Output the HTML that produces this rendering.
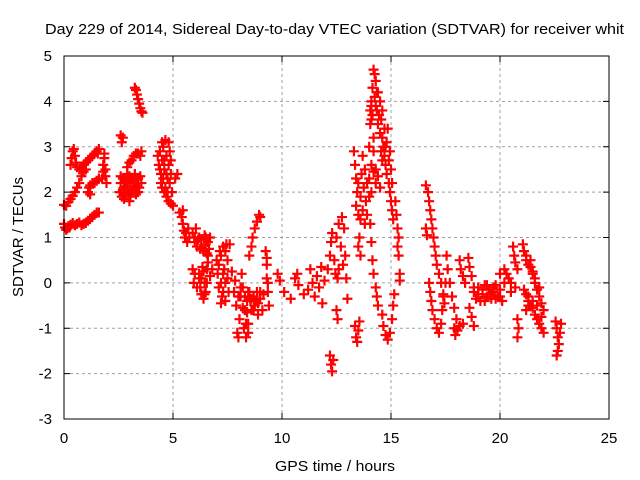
<!DOCTYPE html>
<html><head><meta charset="utf-8"><style>
html,body{margin:0;padding:0;background:#fff;}
svg{display:block;font-family:"Liberation Sans",sans-serif;}
</style></head><body>
<svg id="chart" width="640" height="480" viewBox="0 0 640 480" xmlns="http://www.w3.org/2000/svg">
<rect width="640" height="480" fill="#fff"/>
<text x="45" y="34" font-size="15" textLength="579" lengthAdjust="spacingAndGlyphs" fill="#000">Day 229 of 2014, Sidereal Day-to-day VTEC variation (SDTVAR) for receiver whit</text>
<g id="grid"></g>
<g id="ticks"></g>
<g id="points"></g>
<rect x="64" y="56" width="545" height="363" fill="none" stroke="#000" stroke-width="1"/>
<text x="335" y="471" font-size="15" text-anchor="middle" textLength="120" lengthAdjust="spacingAndGlyphs">GPS time / hours</text>
<text x="0" y="0" font-size="15" text-anchor="middle" textLength="120" lengthAdjust="spacingAndGlyphs" transform="translate(23,237) rotate(-90)">SDTVAR / TECUs</text>
</svg>
<script>
const xTicks = [0,5,10,15,20,25];
const yTicks = [-3,-2,-1,0,1,2,3,4,5];
const times = [
0,0.05,0.1,0.15,0.2,0.25,0.3,0.4,0.5,0.6,0.7,0.8,0.9,1.0,1.1,1.2,1.3,1.4,1.5,1.6,
0,0.1,0.2,0.3,0.4,0.5,0.6,0.7,0.8,0.9,1.0,
0.3,0.35,0.4,0.45,0.5,0.55,0.6,0.7,0.8,0.9,1.0,1.1,1.2,1.3,1.4,1.5,1.6,1.55,
1.1,1.15,1.2,1.3,1.4,1.5,1.6,1.2,
1.75,1.8,1.8,1.85,1.85,1.9,1.9,1.95,
2.6,2.65,2.7,
2.55,2.6,2.65,2.7,2.75,2.8,2.85,2.9,2.95,3.0,3.05,3.1,3.15,3.2,3.25,3.3,3.35,3.4,3.45,3.5,3.55,2.9,3.0,3.1,3.2,3.3,3.4,3.5,3.55,
3.25,3.3,3.35,3.4,3.45,3.5,3.55,3.6,
4.3,4.35,4.4,4.45,4.5,4.55,4.6,4.65,4.7,4.75,4.8,4.85,4.9,4.95,4.45,4.5,4.6,4.7,4.8,4.9,5.0,5.1,5.2,5.3,5.45,
5.4,5.45,5.5,5.55,5.6,5.65,5.7,5.75,
5.9,6.0,6.05,6.1,6.2,6.25,6.3,6.4,6.45,6.5,6.55,6.6,6.65,6.7,
5.9,5.95,6.0,6.1,6.2,6.3,6.35,6.45,6.5,6.55,6.6,6.7,6.8,6.4,
7.0,7.05,7.1,7.15,7.2,7.25,7.3,7.35,7.4,7.45,7.5,7.55,7.6,7.2,
7.7,7.8,7.85,7.9,8.0,8.05,8.1,8.2,8.25,8.3,8.35,8.4,8.45,8.55,8.6,8.7,8.75,8.85,8.9,9.0,9.1,9.15,8.15,8.45,8.0,7.95,
8.5,8.6,8.65,8.75,8.85,8.95,9.0,
9.25,9.3,9.3,9.35,9.4,9.3,9.35,
9.8,9.9,10.1,10.4,10.6,10.7,10.75,11.0,11.2,11.3,11.4,11.5,11.6,11.7,11.8,11.85,11.95,
12.1,12.2,12.25,12.3,12.4,12.45,12.5,12.6,12.6,12.7,12.75,12.8,12.85,12.9,12.95,12.55,
12.2,12.25,12.3,12.35,12.5,12.55,13.0,
13.3,13.35,13.4,13.45,13.5,13.55,13.6,13.5,13.35,13.4,13.45,13.5,13.55,
13.4,13.5,13.6,13.65,13.7,13.75,13.8,13.85,13.9,14.0,14.1,14.2,14.3,14.4,14.5,13.6,
14.0,14.05,14.1,14.15,14.2,14.25,14.3,14.35,14.1,14.2,14.35,14.4,14.05,
14.5,14.55,14.6,14.65,14.7,14.75,14.8,14.85,14.9,14.95,15.0,15.05,15.1,14.6,14.75,
14.05,14.1,14.15,14.2,14.3,14.35,14.4,14.6,14.65,14.75,14.85,14.95,15.05,15.1,15.15,
15.2,15.25,15.3,15.35,15.3,15.35,15.4,15.4,
16.6,16.7,16.75,16.8,16.85,16.9,16.95,17.0,17.05,17.1,17.2,17.3,17.4,17.45,16.6,16.65,
16.75,16.8,16.85,16.9,17.0,17.1,17.2,17.3,17.35,17.4,17.5,
17.55,17.6,17.7,17.8,17.9,18.0,17.9,17.95,18.05,18.15,18.3,
18.15,18.2,18.3,18.4,18.55,18.6,18.7,18.8,18.6,18.7,18.8,
18.8,18.9,19.0,19.1,19.2,19.3,19.4,19.5,19.6,19.7,19.8,19.9,20.0,20.1,20.2,
20.0,20.2,20.4,20.5,20.7,20.6,20.65,20.7,20.8,20.8,20.85,20.8,
21.05,21.1,21.2,21.3,21.4,21.5,
21.1,21.2,21.3,21.4,21.5,21.6,21.7,21.8,21.9,22.0,21.2,21.3,
21.5,21.6,21.7,21.8,21.9,22.0,
22.55,22.6,22.65,22.7,22.65,22.6,22.75,22.8,
14.1,14.15,14.25,14.3,14.4,14.45,14.5,14.55,14.6,14.7,14.8,14.9,15.0,14.95,15.05,14.0,14.1,14.2,14.3,13.9,13.8,13.7,
4.4,4.5,4.6,4.7,4.8,4.85,4.9,4.55,4.65,4.75,
2.7,2.8,2.9,3.0,3.1,3.2,3.3,3.4,2.6,2.75,3.0,
6.0,6.15,6.3,6.5,6.6,6.2,6.3,6.4,6.55,6.25,6.45,
7.1,7.2,7.3,7.4,7.5,7.3,7.4,
8.1,8.2,8.3,8.4,8.5,8.6,8.7,8.8,8.9,9.0,8.35,8.45,
19.0,19.2,19.4,19.6,19.8,20.0,20.3,20.5,19.3,19.7,
21.3,21.5,21.7,21.9,21.6,21.8,21.2,21.4
];
const values = [
1.3,1.22,1.17,1.2,1.25,1.22,1.28,1.32,1.27,1.3,1.33,1.27,1.3,1.32,1.37,1.42,1.45,1.5,1.55,1.55,
1.72,1.7,1.78,1.85,1.92,2.0,2.1,2.2,2.35,2.45,2.5,
2.6,2.75,2.9,2.95,2.8,2.65,2.55,2.5,2.55,2.6,2.65,2.7,2.75,2.8,2.85,2.9,2.95,2.85,
2.0,2.1,2.15,2.2,2.2,2.25,2.3,1.95,
2.3,2.45,2.6,2.75,2.85,2.5,2.35,2.2,
3.25,3.1,3.2,
2.0,2.2,1.9,2.3,2.1,1.95,2.25,2.4,2.0,2.2,1.9,2.3,2.05,2.15,2.4,1.95,2.2,2.3,2.1,2.35,2.2,2.55,2.65,2.7,2.8,2.85,2.85,2.8,2.9,
4.3,4.25,4.15,4.05,3.95,3.85,3.78,3.75,
2.8,2.6,2.9,2.4,2.7,3.0,2.5,3.15,2.8,2.3,2.6,2.9,2.4,2.0,2.2,2.1,2.0,1.9,1.8,1.75,1.7,2.3,2.4,1.55,1.6,
1.45,1.3,1.15,1.0,1.1,0.9,1.2,1.0,
1.1,0.9,1.2,0.8,1.0,0.75,0.95,0.7,1.05,0.85,0.65,0.9,0.75,1.0,
0.3,0.0,0.2,-0.1,0.1,-0.25,0.35,0.0,-0.2,0.3,0.45,0.15,0.3,-0.35,
0.5,0.2,-0.1,0.7,0.0,-0.3,0.8,0.3,-0.4,0.85,0.1,-0.2,0.85,-0.45,
0.25,-0.2,0.05,-0.5,-0.3,-0.8,-0.1,-0.55,-1.0,-0.3,-1.2,-0.65,-0.2,-0.4,-0.6,-0.3,-0.5,-0.2,-0.45,-0.35,-0.6,-0.25,0.2,-0.9,-1.2,-1.1,
0.6,0.8,1.0,1.2,1.35,1.5,1.45,
0.7,0.4,0.1,-0.2,-0.5,0.55,0.0,
0.2,0.05,-0.2,-0.35,0.1,0.2,-0.05,-0.25,-0.15,0.3,0.0,-0.3,0.15,-0.1,0.35,-0.45,0.05,
0.3,0.6,0.9,1.1,0.5,0.2,1.0,1.3,0.3,0.8,1.45,0.4,1.2,0.6,0.1,0.1,
-1.6,-1.8,-1.95,-1.7,-0.6,-0.8,-0.35,
2.9,2.6,2.3,2.0,1.5,1.0,0.6,0.8,-0.95,-1.2,-1.3,-1.05,-0.85,
1.7,2.2,1.9,2.4,1.6,2.1,2.5,1.8,2.2,2.3,2.0,2.45,2.2,2.35,2.1,1.4,
3.0,3.5,3.9,4.3,4.7,4.6,4.45,4.2,3.6,3.2,3.8,3.5,3.8,
4.0,3.6,3.2,3.0,2.8,2.6,2.4,3.4,2.2,2.0,1.8,1.6,1.4,2.7,3.0,
1.3,0.9,0.5,0.2,-0.1,-0.3,-0.5,-0.7,-0.95,-1.15,-1.25,-1.1,-0.8,-0.5,-0.25,
1.8,1.5,1.2,1.0,0.8,0.6,0.2,0.05,
2.15,2.0,1.8,1.6,1.4,1.2,1.0,0.8,0.6,0.4,0.2,0.0,-0.25,-0.45,1.2,1.05,
0.0,-0.2,-0.4,-0.6,-0.8,-1.0,-1.1,-0.9,-0.6,-0.3,0.0,
0.6,0.3,0.0,-0.3,-0.55,-0.8,-1.0,-1.15,-1.05,-0.95,-0.9,
0.5,0.3,0.15,0.0,0.55,0.35,0.15,-0.1,-0.55,-0.75,-0.95,
-0.2,-0.35,-0.1,-0.4,-0.25,-0.05,-0.3,-0.15,-0.35,-0.2,-0.05,-0.3,-0.15,-0.4,0.0,
0.2,0.3,0.1,0.0,-0.1,0.8,0.6,0.45,0.3,-0.8,-1.0,-1.2,
0.85,0.7,0.5,0.4,0.35,0.25,
-0.15,-0.25,-0.4,-0.5,-0.55,-0.7,-0.8,-0.9,-1.0,-1.1,-0.6,-0.5,
0.2,0.0,-0.15,-0.3,-0.45,-0.6,
-0.85,-1.0,-1.2,-1.35,-1.5,-1.6,-1.1,-0.9,
4.0,3.7,4.1,3.9,4.2,3.7,3.3,2.9,3.8,3.4,3.1,2.7,2.5,2.9,2.2,1.9,2.6,2.9,2.5,1.5,1.3,2.8,
2.5,3.1,2.7,2.4,3.1,2.2,2.7,2.3,2.1,2.0,
2.05,2.2,2.1,2.35,2.0,2.25,2.1,2.0,2.35,1.85,1.8,
1.0,0.95,0.8,1.0,0.6,0.2,0.1,0.25,0.0,-0.1,-0.25,
0.4,0.6,0.2,0.0,0.5,-0.2,0.7,
-0.3,-0.1,-0.6,-0.4,-0.2,-0.35,-0.6,-0.4,-0.7,-0.2,-0.9,-1.1,
-0.25,-0.15,-0.05,-0.25,-0.35,-0.3,0.2,-0.2,-0.4,-0.1,
-0.3,-0.4,-0.5,-0.75,0.1,-0.1,0.6,0.5
];
const NS='http://www.w3.org/2000/svg';
const L=64,R=609,T=56,B=419,X0=0,X1=25,Y0=-3,Y1=5;
function xs(t){return L+(t-X0)/(X1-X0)*(R-L);}
function ys(v){return B-(v-Y0)/(Y1-Y0)*(B-T);}
const grid=document.getElementById('grid'),ticks=document.getElementById('ticks'),pts=document.getElementById('points');
function mk(tag,attrs,parent){const e=document.createElementNS(NS,tag);for(const k in attrs)e.setAttribute(k,attrs[k]);parent.appendChild(e);return e;}
xTicks.forEach(t=>{
  const x=xs(t);
  if(t>X0&&t<X1){const g=mk('line',{x1:x,y1:T,x2:x,y2:B,stroke:'#a0a0a0','stroke-dasharray':'3,3','stroke-width':1},grid);
  
  }
  mk('line',{x1:x,y1:B,x2:x,y2:B-6,stroke:'#000'},ticks);
  mk('line',{x1:x,y1:T,x2:x,y2:T+6,stroke:'#000'},ticks);
  const lb=mk('text',{x:x,y:443,'font-size':15,'text-anchor':'middle'},ticks);
  lb.textContent=t;
  
  
});
yTicks.forEach(v=>{
  const y=ys(v);
  if(v>Y0&&v<Y1){const g=mk('line',{x1:L,y1:y,x2:R,y2:y,stroke:'#a0a0a0','stroke-dasharray':'3,3','stroke-width':1},grid);
  
  }
  mk('line',{x1:L,y1:y,x2:L+6,y2:y,stroke:'#000'},ticks);
  mk('line',{x1:R,y1:y,x2:R-6,y2:y,stroke:'#000'},ticks);
  const lb=mk('text',{x:52,y:y+5,'font-size':15,'text-anchor':'end'},ticks);
  lb.textContent=v;
  
  
});
const s=5;
for(let i=0;i<times.length;i++){
  const x=xs(times[i]),y=ys(values[i]);
  const p=mk('path',{d:`M${x-s},${y}H${x+s}M${x},${y-s}V${y+s}`,stroke:'#ff0000','stroke-width':2.2,fill:'none'},pts);
  
  
}
</script>
</body></html>
